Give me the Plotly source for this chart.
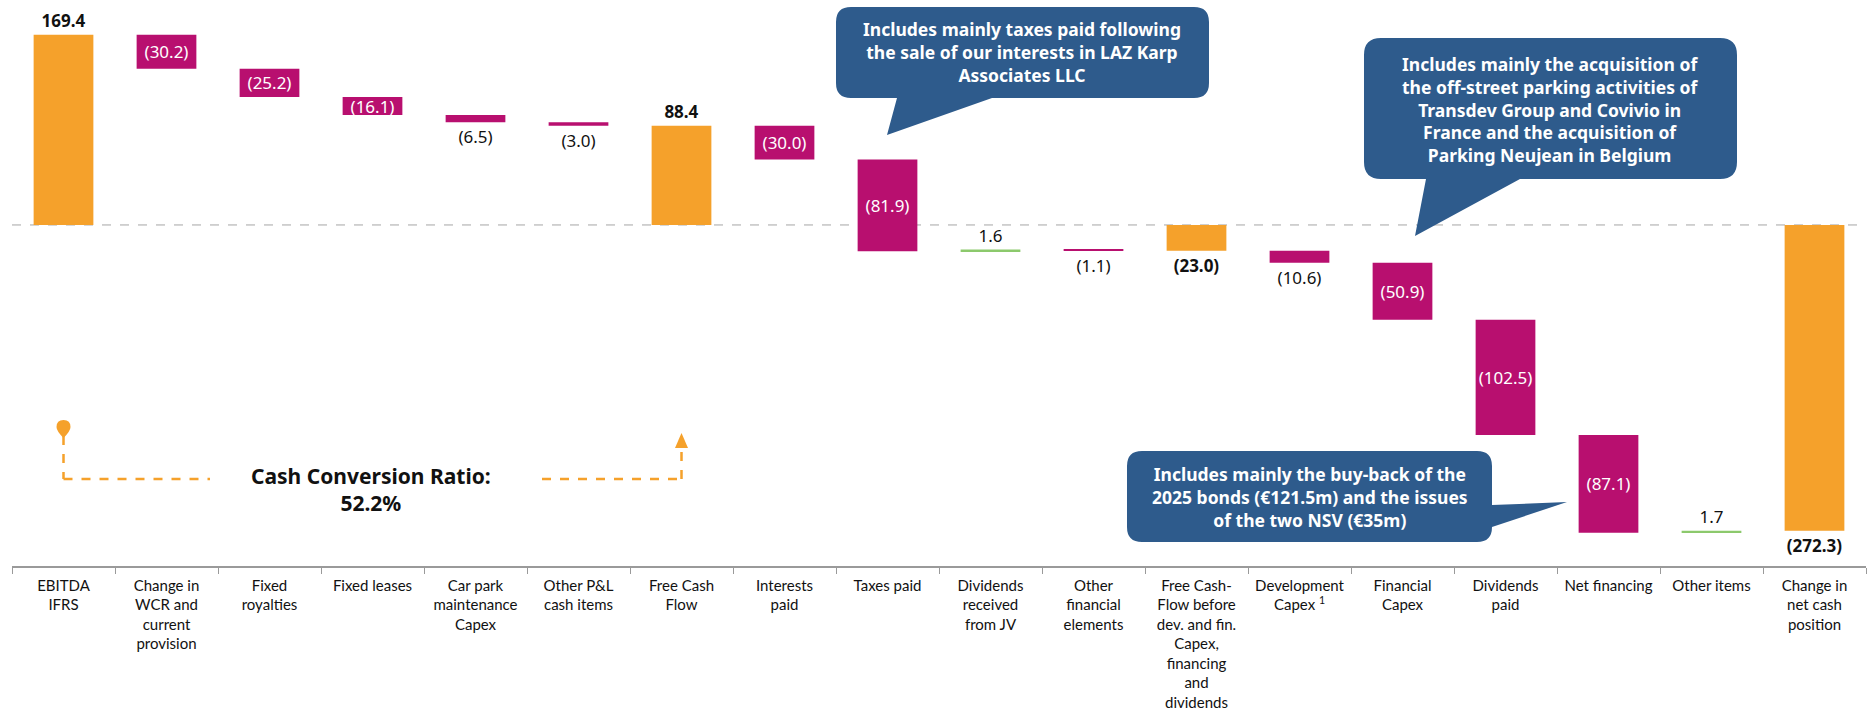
import plotly.graph_objects as go

# ---------------- data ----------------
categories = [
    "EBITDA<br>IFRS",
    "Change in<br>WCR and<br>current<br>provision",
    "Fixed<br>royalties",
    "Fixed leases",
    "Car park<br>maintenance<br>Capex",
    "Other P&L<br>cash items",
    "Free Cash<br>Flow",
    "Interests<br>paid",
    "Taxes paid",
    "Dividends<br>received<br>from JV",
    "Other<br>financial<br>elements",
    "Free Cash-<br>Flow before<br>dev. and fin.<br>Capex,<br>financing<br>and<br>dividends",
    "Development<br>Capex <sup>1</sup>",
    "Financial<br>Capex",
    "Dividends<br>paid",
    "Net financing",
    "Other items",
    "Change in<br>net cash<br>position",
]
values = [169.4, -30.2, -25.2, -16.1, -6.5, -3.0, 88.4, -30.0, -81.9, 1.6,
          -1.1, -23.0, -10.6, -50.9, -102.5, -87.1, 1.7, -272.3]
measures = ["absolute", "relative", "relative", "relative", "relative", "relative",
            "absolute", "relative", "relative", "relative", "relative",
            "absolute", "relative", "relative", "relative", "relative", "relative",
            "absolute"]
label_pos = ["outside", "inside", "inside", "inside", "outside", "outside",
             "outside", "inside", "inside", "outside", "outside",
             "outside", "outside", "inside", "inside", "inside", "outside",
             "outside"]

callout_taxes = "Includes mainly taxes paid following<br>the sale of our interests in LAZ Karp<br>Associates LLC"
callout_fin = ("Includes mainly the acquisition of<br>the off-street parking activities of<br>"
               "Transdev Group and Covivio in<br>France and the acquisition of<br>Parking Neujean in Belgium")
callout_net = ("Includes mainly the buy-back of the<br>2025 bonds (€121.5m) and the issues<br>"
               "of the two NSV (€35m)")
ccr_text = "<b>Cash Conversion Ratio:</b><br><b>52.2%</b>"

# ---------------- style ----------------
ORANGE = "#F5A12B"
MAGENTA = "#B80F6F"
GREEN = "#8CC96C"
BLUE = "#2E5B8C"
FONT = "Noto Sans"

W, H = 1875, 710
ML, MR, MT, MB = 12, 9, 0, 144
PW, PH = W - ML - MR, H - MT - MB


def fx(x):
    return (x - ML) / PW


def fy(y):
    return 1 - (y - MT) / PH


def fmt(v, total):
    s = f"{v:.1f}" if v >= 0 else f"({abs(v):.1f})"
    return f"<b>{s}</b>" if total else s


texts = [fmt(v, m == "absolute") for v, m in zip(values, measures)]

fig = go.Figure()
fig.add_trace(go.Waterfall(
    x=categories,
    y=values,
    measure=measures,
    text=texts,
    textposition=label_pos,
    textangle=0,
    constraintext="none",
    insidetextanchor="middle",
    insidetextfont=dict(color="white", size=17, family=FONT),
    outsidetextfont=dict(color="#111111", size=17, family=FONT),
    cliponaxis=False,
    connector=dict(visible=False),
    increasing=dict(marker=dict(color=GREEN, line=dict(width=0))),
    decreasing=dict(marker=dict(color=MAGENTA, line=dict(width=0))),
    totals=dict(marker=dict(color=ORANGE, line=dict(width=0))),
    hoverinfo="skip",
))

shapes = []
annotations = []

# zero dashed line
shapes.append(dict(type="line", xref="paper", yref="y", x0=0, x1=1, y0=0, y1=0,
                   line=dict(color="#a6a6a6", width=1, dash="dash"), layer="below"))


def callout_path(x0, y0, x1, y1, r, tail, side):
    """Rounded rectangle with a speech tail; pixel coords converted to paper."""
    def P(x, y):
        return f"{fx(x):.6f},{fy(y):.6f}"

    d = f"M {P(x0 + r, y0)} L {P(x1 - r, y0)} Q {P(x1, y0)} {P(x1, y0 + r)} "
    if side == "right":
        a, b, c = tail
        d += f"L {P(x1, a[1])} L {P(*b)} L {P(x1, c[1])} "
    d += f"L {P(x1, y1 - r)} Q {P(x1, y1)} {P(x1 - r, y1)} "
    if side == "bottom":
        a, b, c = tail
        d += f"L {P(a[0], y1)} L {P(*b)} L {P(c[0], y1)} "
    d += f"L {P(x0 + r, y1)} Q {P(x0, y1)} {P(x0, y1 - r)} "
    d += f"L {P(x0, y0 + r)} Q {P(x0, y0)} {P(x0 + r, y0)} Z"
    return d


def note(x, y, text, size, color="white"):
    return dict(xref="paper", yref="paper", x=fx(x), y=fy(y), xanchor="center",
                yanchor="middle", text=text, showarrow=False, align="center",
                font=dict(color=color, size=size, family=FONT))


def bold_lines(s):
    return "<br>".join(f"<b>{p}</b>" for p in s.split("<br>"))


# callout 1 (taxes)
shapes.append(dict(type="path", xref="paper", yref="paper",
                   path=callout_path(836, 7, 1209, 98, 15,
                                     ((992, 98), (887, 135), (897, 98)), "bottom"),
                   fillcolor=BLUE, line=dict(width=0), layer="above"))
annotations.append(note(1022, 52, bold_lines(callout_taxes), 17.5))

# callout 2 (financial capex)
shapes.append(dict(type="path", xref="paper", yref="paper",
                   path=callout_path(1364, 38, 1737, 179, 17,
                                     ((1520, 179), (1415, 236), (1426, 179)), "bottom"),
                   fillcolor=BLUE, line=dict(width=0), layer="above"))
annotations.append(note(1550, 109, bold_lines(callout_fin), 17.5))

# callout 3 (net financing)
shapes.append(dict(type="path", xref="paper", yref="paper",
                   path=callout_path(1127, 451, 1492, 542, 15,
                                     ((1492, 505), (1567, 502), (1492, 527)), "right"),
                   fillcolor=BLUE, line=dict(width=0), layer="above"))
annotations.append(note(1310, 497, bold_lines(callout_net), 17.5))

# cash conversion ratio decoration
cat_w = PW / len(categories)
cx0 = ML + 0.5 * cat_w
cx6 = ML + 6.5 * cat_w
dash_line = dict(color=ORANGE, width=2.5, dash="dash")
shapes.append(dict(type="line", xref="paper", yref="paper",
                   x0=fx(cx0), x1=fx(cx0), y0=fy(436), y1=fy(479), line=dash_line))
shapes.append(dict(type="line", xref="paper", yref="paper",
                   x0=fx(cx0), x1=fx(210), y0=fy(479), y1=fy(479), line=dash_line))
shapes.append(dict(type="line", xref="paper", yref="paper",
                   x0=fx(542), x1=fx(cx6), y0=fy(479), y1=fy(479), line=dash_line))
shapes.append(dict(type="line", xref="paper", yref="paper",
                   x0=fx(cx6), x1=fx(cx6), y0=fy(479), y1=fy(447), line=dash_line))
shapes.append(dict(type="path", xref="paper", yref="paper",
                   path=f"M {fx(cx6 - 6.5)},{fy(448)} L {fx(cx6 + 6.5)},{fy(448)} L {fx(cx6)},{fy(433)} Z",
                   fillcolor=ORANGE, line=dict(width=0)))
shapes.append(dict(type="path", xref="paper", yref="paper",
                   path=(f"M {fx(cx0)},{fy(438)} "
                         f"Q {fx(cx0 - 7)},{fy(431)} {fx(cx0 - 7)},{fy(427)} "
                         f"Q {fx(cx0 - 7)},{fy(420)} {fx(cx0)},{fy(420)} "
                         f"Q {fx(cx0 + 7)},{fy(420)} {fx(cx0 + 7)},{fy(427)} "
                         f"Q {fx(cx0 + 7)},{fy(431)} {fx(cx0)},{fy(438)} Z"),
                   fillcolor=ORANGE, line=dict(width=0)))
annotations.append(note(371, 489, ccr_text, 21, color="#111111"))

fig.update_layout(
    width=W, height=H,
    margin=dict(l=ML, r=MR, t=MT, b=MB),
    paper_bgcolor="white", plot_bgcolor="white",
    showlegend=False,
    waterfallgap=0.42,
    font=dict(family=FONT, color="#111111"),
    shapes=shapes,
    annotations=annotations,
    xaxis=dict(
        type="category",
        showline=True, linecolor="#9a9a9a", linewidth=1.5,
        ticks="outside", tickson="boundaries", ticklen=6, tickcolor="#9a9a9a",
        ticklabelstandoff=5,
        tickfont=dict(size=15, family="Lato", color="#111111"),
        showgrid=False, tickangle=0, fixedrange=True,
    ),
    yaxis=dict(visible=False, range=[-303.8, 200.4], showgrid=False, zeroline=False,
               fixedrange=True),
)

# remove the default page margin so the figure sits at the window's top-left corner
fig.write_html("out.html", config={"displayModeBar": False},
               post_script="document.body.style.margin='0';")
